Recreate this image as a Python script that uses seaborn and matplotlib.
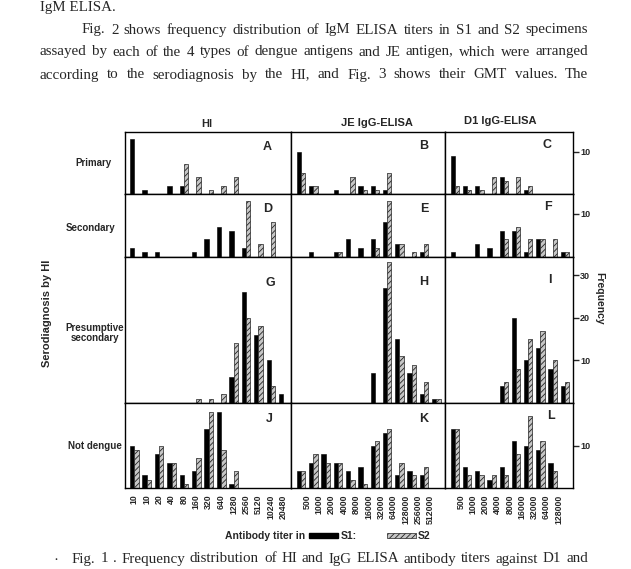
import numpy as np
import pandas as pd
import matplotlib
matplotlib.use("Agg")
import matplotlib.pyplot as plt
import seaborn as sns
from matplotlib.patches import Patch

# ---------------- data ----------------
hi_labels = ["10", "10", "20", "40", "80", "160", "320", "640", "1280", "2560", "5120", "10240", "20480"]
je_labels = ["500", "1000", "2000", "4000", "8000", "16000", "32000", "64000", "128000", "256000", "512000"]
d1_labels = ["500", "1000", "2000", "4000", "8000", "16000", "32000", "64000", "128000"]

row_names = ["Primary", "Secondary", "Presumptive\nsecondary", "Not dengue"]
col_titles = ["HI", "JE IgG-ELISA", "D1 IgG-ELISA"]

# HI column (13 bins)
A_s1 = [13, 1, 0, 2, 2, 0, 0, 0, 0, 0, 0, 0, 0]
A_s2 = [0, 0, 0, 0, 7, 4, 1, 2, 4, 0, 0, 0, 0]
D_s1 = [2, 1, 1, 0, 0, 1, 4, 7, 6, 2, 0, 0, 0]
D_s2 = [0, 0, 0, 0, 0, 0, 0, 0, 0, 13, 3, 8, 0]
G_s1 = [0, 0, 0, 0, 0, 0, 0, 0, 6, 26, 16, 10, 2]
G_s2 = [0, 0, 0, 0, 0, 1, 1, 2, 14, 20, 18, 4, 0]
J_s1 = [10, 3, 8, 6, 3, 4, 14, 18, 1, 0, 0, 0, 0]
J_s2 = [9, 2, 10, 6, 1, 7, 18, 9, 4, 0, 0, 0, 0]

# JE IgG-ELISA column (12 bins)
B_s1 = [10, 2, 0, 1, 0, 2, 2, 1, 0, 0, 0, 0]
B_s2 = [5, 2, 0, 0, 4, 1, 1, 5, 0, 0, 0, 0]
E_s1 = [0, 1, 0, 1, 4, 2, 4, 8, 3, 0, 1, 0]
E_s2 = [0, 0, 0, 1, 0, 0, 2, 13, 3, 1, 3, 0]
H_s1 = [0, 0, 0, 0, 0, 0, 7, 27, 15, 7, 2, 1]
H_s2 = [0, 0, 0, 0, 0, 0, 0, 33, 11, 9, 5, 1]
K_s1 = [4, 6, 8, 6, 4, 5, 10, 13, 3, 4, 3, 0]
K_s2 = [4, 8, 6, 6, 2, 1, 11, 14, 6, 3, 5, 0]

# D1 IgG-ELISA column (10 bins)
C_s1 = [9, 2, 2, 0, 4, 0, 1, 0, 0, 0]
C_s2 = [2, 1, 1, 4, 3, 4, 2, 0, 0, 0]
F_s1 = [1, 0, 3, 2, 6, 6, 1, 4, 0, 1]
F_s2 = [0, 0, 0, 0, 4, 7, 4, 4, 4, 1]
I_s1 = [0, 0, 0, 0, 4, 20, 10, 13, 8, 4]
I_s2 = [0, 0, 0, 0, 5, 8, 15, 17, 10, 5]
L_s1 = [14, 5, 4, 2, 5, 11, 10, 9, 6, 0]
L_s2 = [14, 3, 3, 3, 3, 8, 17, 11, 4, 0]

panels = [
    [(A_s1, A_s2, "A"), (B_s1, B_s2, "B"), (C_s1, C_s2, "C")],
    [(D_s1, D_s2, "D"), (E_s1, E_s2, "E"), (F_s1, F_s2, "F")],
    [(G_s1, G_s2, "G"), (H_s1, H_s2, "H"), (I_s1, I_s2, "I")],
    [(J_s1, J_s2, "J"), (K_s1, K_s2, "K"), (L_s1, L_s2, "L")],
]
right_ticks = [[10], [10], [10, 20, 30], [10]]

# ---------------- style ----------------
sns.set_style("white")
plt.rcParams["font.family"] = ["Liberation Sans", "DejaVu Sans"]
plt.rcParams["hatch.linewidth"] = 0.6

W, H = 631, 569
fig = plt.figure(figsize=(W / 100, H / 100), dpi=100)


def fx(x):
    return x / W


def fy(y):
    return 1 - y / H


col_edges = [125, 291, 445, 573]
row_edges = [132, 194, 256.5, 403, 488]
ylims = [14.6, 14.6, 34.4, 20]
xlims = [(-0.75, 12.62), (-0.81, 11.7), (-0.82, 9.67)]
letter_pos = [
    [(267, 147), (424, 146), (547, 145)],
    [(268, 209), (424, 209), (548, 207)],
    [(270, 283), (424, 282), (550, 280)],
    [(269, 419), (424, 419), (551, 416)],
]
S2_COLOR = "#c6c6c6"

for r in range(4):
    for c in range(3):
        s1, s2, letter = panels[r][c]
        n = len(s1)
        x0, x1 = col_edges[c], col_edges[c + 1]
        y0, y1 = row_edges[r], row_edges[r + 1]
        ax = fig.add_axes([fx(x0), fy(y1), (x1 - x0) / W, (y1 - y0) / H])
        df = pd.DataFrame({
            "bin": list(range(n)) * 2,
            "count": list(s1) + list(s2),
            "serum": ["S1"] * n + ["S2"] * n,
        })
        sns.barplot(data=df, x="bin", y="count", hue="serum", hue_order=["S1", "S2"],
                    palette={"S1": "black", "S2": S2_COLOR}, width=0.7, errorbar=None,
                    legend=False, saturation=1, ax=ax)
        for p in ax.containers[0]:
            p.set_edgecolor("black")
            p.set_linewidth(0.4)
        for p in ax.containers[1]:
            p.set_hatch("//////")
            p.set_edgecolor("#222222")
            p.set_linewidth(0.5)
        ax.set_xlim(*xlims[c])
        ax.set_ylim(0, ylims[r])
        ax.set_xlabel("")
        ax.set_ylabel("")
        for sp in ax.spines.values():
            sp.set_visible(True)
            sp.set_color("black")
            sp.set_linewidth(1.0)
        # y ticks
        if c == 2:
            ax.yaxis.tick_right()
            ax.set_yticks(right_ticks[r])
            ax.set_yticklabels([str(t) for t in right_ticks[r]], fontsize=6.5, fontweight="bold")
            ax.tick_params(axis="y", direction="out", length=4, width=1, pad=1)
        else:
            ax.set_yticks([])
        # x ticks
        if r == 3:
            if c == 0:
                ticks = np.arange(len(hi_labels))
                labels = hi_labels
            elif c == 1:
                ticks = np.arange(len(je_labels)) + 0.5
                labels = je_labels
            else:
                ticks = np.arange(len(d1_labels)) + 0.5
                labels = d1_labels
            ax.set_xticks(ticks)
            ax.set_xticklabels(labels, rotation=90, fontsize=6.3, fontweight="bold")
            ax.tick_params(axis="x", direction="out", length=3, width=0.8, pad=1.5)
        else:
            ax.set_xticks([])
        lx, ly = letter_pos[r][c]
        fig.text(fx(lx), fy(ly), letter, fontsize=9, fontweight="bold", ha="center", va="center")

# column titles
fig.text(fx(207), fy(124), col_titles[0], fontsize=8, fontweight="bold", ha="center", va="center")
fig.text(fx(377), fy(123), col_titles[1], fontsize=8, fontweight="bold", ha="center", va="center")
fig.text(fx(500), fy(121), col_titles[2], fontsize=8, fontweight="bold", ha="center", va="center")

# row labels
fig.text(fx(93), fy(163), row_names[0], fontsize=7, fontweight="bold", ha="center", va="center")
fig.text(fx(90), fy(228), row_names[1], fontsize=7, fontweight="bold", ha="center", va="center")
fig.text(fx(95), fy(333), row_names[2], fontsize=7, fontweight="bold", ha="center", va="center",
         linespacing=1.1)
fig.text(fx(95), fy(446), row_names[3], fontsize=7, fontweight="bold", ha="center", va="center")

fig.text(fx(47), fy(313), "Serodiagnosis by HI", fontsize=8, fontweight="bold", rotation=90,
         ha="center", va="center")
fig.text(fx(599), fy(298), "Frequency", fontsize=7.5, fontweight="bold", rotation=270,
         ha="center", va="center")

# x legend line
fig.text(fx(305), fy(536), "Antibody titer in", fontsize=7.5, fontweight="bold", ha="right", va="center")
handles = [Patch(facecolor="black", edgecolor="black"),
           Patch(facecolor=S2_COLOR, edgecolor="#222222", hatch="//////", linewidth=0.5)]
fig.legend(handles=handles, labels=["S1:", "S2"], ncol=2, loc="center left",
           bbox_to_anchor=(fx(309), fy(536)), frameon=False, handlelength=2.8,
           handleheight=0.35, columnspacing=2.9, handletextpad=0.2, borderpad=0,
           borderaxespad=0, prop={"weight": "bold", "size": 7.5})

# ---------------- surrounding body text (justified) ----------------
renderer = fig.canvas.get_renderer()
SERIF = ["Liberation Serif", "DejaVu Serif"]
BODY_SIZE = 10.8


def justified(text, xl, xr, y, size=BODY_SIZE):
    words = text.split()
    tmp = [fig.text(0, 0, w, fontsize=size, family=SERIF) for w in words]
    widths = [t.get_window_extent(renderer).width for t in tmp]
    for t in tmp:
        t.remove()
    gap = ((xr - xl) - sum(widths)) / max(len(words) - 1, 1)
    gap = max(gap, 2.0)
    x = xl
    for w, wd in zip(words, widths):
        fig.text(fx(x), fy(y), w, fontsize=size, family=SERIF, ha="left", va="center")
        x += wd + gap


fig.text(fx(40), fy(8), "IgM ELISA.", fontsize=BODY_SIZE, family=SERIF, ha="left", va="center")
justified("Fig. 2 shows frequency distribution of IgM ELISA titers in S1 and S2 specimens", 82, 588, 30)
justified("assayed by each of the 4 types of dengue antigens and JE antigen, which were arranged", 40, 588, 52)
justified("according to the serodiagnosis by the HI, and Fig. 3 shows their GMT values. The", 40, 588, 75)
fig.text(fx(53), fy(560), "·", fontsize=BODY_SIZE, family=SERIF, ha="left", va="center")
justified("Fig. 1 . Frequency distribution of HI and IgG ELISA antibody titers against D1 and", 72, 588, 559)

fig.savefig("out.png", dpi=100)
